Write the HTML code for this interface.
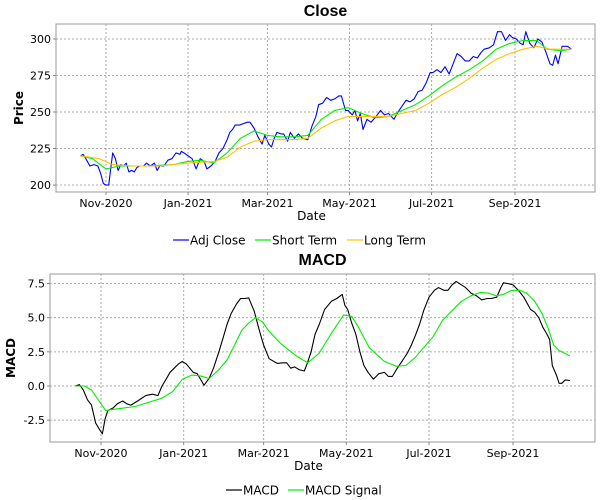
<!DOCTYPE html>
<html><head><meta charset="utf-8"><style>
body{margin:0;background:#fff;}
svg{display:block;font-family:"DejaVu Sans","Liberation Sans",sans-serif;}
</style></head><body>
<svg id="c" width="600" height="500" xmlns="http://www.w3.org/2000/svg"></svg>
<script>
// days offset from 2020-11-01
const closeDays=[-19,-17,-15,-12,-9,-6,-4,-2,0,2,5,7,9,11,13,15,17,19,21,23,25,28,30,33,36,38,40,43,46,49,52,55,56,58,61,64,67,70,73,75,78,81,84,87,90,92,94,96,99,102,105,107,110,113,116,118,121,123,125,127,130,132,135,137,140,143,146,150,153,156,158,161,164,167,170,173,175,178,180,183,185,187,189,191,194,197,200,204,207,210,214,217,220,223,226,229,232,235,238,241,243,246,249,252,255,258,261,264,267,270,273,276,279,281,285,288,291,294,297,300,302,305,308,310,312,315,318,321,324,327,330,332,334,336,339,343,346];
const closeVals=[220,221,218,213,214,213,208,201,200,200,222,218,210,214,213,215,209,210,209,212,213,213,215,213,215,210,213,213,217,218,222,221,223,222,220,218,211,218,216,211,213,216,222,225,231,236,238,241,241,242,243,243,239,233,228,234,228,226,232,236,235,235,230,236,232,235,232,231,240,247,255,256,260,258,259,261,261,251,251,248,251,244,249,238,245,243,246,251,248,249,245,250,254,258,257,259,264,265,270,277,277,279,277,281,276,283,290,288,285,285,288,287,291,293,294,296,305,305,299,303,301,300,297,296,305,297,294,300,298,291,283,282,289,283,295,295,293];
const shortDays=[-19,-10,0,10,30,50,60,70,80,90,100,110,120,130,140,150,160,170,180,190,200,210,220,230,240,250,260,270,280,290,300,310,320,328,338,346];
const shortVals=[220,218,211,213,213,214,216,217,215,222,232,237,234,233,233,234,245,251,253,249,246,247,251,255,261,268,274,279,285,293,297,299,299,293,292,293];
const longDays=[-19,-5,5,20,40,60,80,90,100,110,120,140,150,160,170,180,190,210,230,240,250,260,270,280,290,300,310,320,330,346];
const longVals=[220,218,214,213,213,215,216,219,226,230,231,231,232,239,244,247,247,247,251,256,262,267,273,280,286,290,293,295,293,293];
const macdDays=[-19,-16,-13,-10,-7,-4,-1,1,3,5,9,12,16,19,22,27,33,38,42,45,48,51,54,57,60,63,68,71,74,76,80,83,87,90,93,96,100,103,106,109,113,117,120,124,130,134,137,140,143,146,150,152,155,158,161,165,170,174,178,180,182,185,188,191,194,197,201,205,209,212,215,218,222,226,229,232,235,238,242,246,249,253,256,259,262,266,269,273,277,281,285,288,292,295,297,300,304,308,312,317,320,323,326,329,331,333,336,338,340,342.6,346];
const macdVals=[0,0.1,-0.3,-1,-1.4,-2.7,-3.2,-3.5,-2.4,-1.8,-1.6,-1.3,-1.1,-1.3,-1.4,-1.1,-0.7,-0.6,-0.7,0,0.5,1.0,1.3,1.6,1.8,1.6,1.0,0.9,0.4,0.05,0.6,1.3,2.5,3.5,4.5,5.3,6.0,6.4,6.4,6.45,5.5,4.0,3.0,2.0,1.65,1.7,1.7,1.3,1.4,1.2,1.1,1.6,2.5,3.8,4.5,5.6,6.2,6.4,6.7,5.9,5.6,4.6,3.8,2.5,1.5,1.0,0.5,0.9,1.0,0.7,0.7,1.2,1.8,2.4,3.0,3.7,4.5,5.5,6.5,7.0,7.2,7.0,7.0,7.4,7.65,7.4,7.2,6.8,6.6,6.3,6.4,6.4,6.5,7.2,7.55,7.5,7.4,7.0,6.5,5.6,5.4,5.0,4.3,3.8,3.4,1.5,0.8,0.2,0.2,0.45,0.4];
const sigDays=[-19,-12,-7,-3.5,3.5,10,25,35,44.7,53,60,67,73,80,87,93,98.6,104,109,114,119,124,132.6,144,152.5,161,169.6,179,185,190,198,209,218,225,232,238,245,252,259,266,273,280,286,291.6,297,303,309,314,320,325.5,330,334,338,346];
const sigVals=[0,0,-0.3,-0.8,-1.8,-1.7,-1.5,-1.2,-0.9,-0.4,0.5,0.8,0.75,0.55,1.2,1.9,3.0,4.1,4.6,5.0,4.7,4.0,3.1,2.2,1.7,2.4,3.8,5.2,5.1,4.3,2.8,1.8,1.45,1.5,2.1,2.8,3.6,4.8,5.5,6.2,6.6,6.85,6.8,6.6,6.7,7.0,7.0,6.8,6.2,5.3,4.2,3.0,2.6,2.2];
const monthLabels=["Nov-2020","Jan-2021","Mar-2021","May-2021","Jul-2021","Sep-2021"];
const monthDays=[0,61,120,181,242,304];
const priceTicks=[200,225,250,275,300];
const macdTicks=[-2.5,0,2.5,5,7.5];

const svg=document.getElementById('c');
const NS='http://www.w3.org/2000/svg';
function mk(tag,attrs,parent,text){const e=document.createElementNS(NS,tag);for(const k in attrs)e.setAttribute(k,attrs[k]);if(text!==undefined)e.textContent=text;(parent||svg).appendChild(e);return e;}

function panel(cfg){
  const g=mk('g',{});
  
  
  const sx=d=>cfg.x0+(d-0)*(cfg.x1-cfg.x0)/304;
  const sy=v=>cfg.y0+(v-cfg.v0)*(cfg.y1-cfg.y0)/(cfg.v1-cfg.v0);
  const t=mk('text',{x:(cfg.L+cfg.R)/2,y:cfg.titleY,'text-anchor':'middle','font-size':'16','font-weight':'bold','font-family':'"Liberation Sans",sans-serif'},g,cfg.title);
  
  
  const fr=mk('rect',{x:cfg.L,y:cfg.T,width:cfg.R-cfg.L,height:cfg.B-cfg.T,fill:'#fff',stroke:'#999','stroke-width':'1'},g);
  
  
  cfg.yt.forEach(v=>{const y=sy(v);
    const l=mk('line',{x1:cfg.L,x2:cfg.R,y1:y,y2:y,stroke:'#aaa','stroke-dasharray':'2,2'},g);
    
    
    mk('line',{x1:cfg.L-3,x2:cfg.L,y1:y,y2:y,stroke:'#888'},g);
    const tx=mk('text',{x:cfg.L-5,y:y+4,'text-anchor':'end','font-size':'11'},g,cfg.fmt(v));
    
    
  });
  monthDays.forEach((d,i)=>{const x=sx(d);
    const l=mk('line',{x1:x,x2:x,y1:cfg.T,y2:cfg.B,stroke:'#aaa','stroke-dasharray':'2,2'},g);
    
    
    mk('line',{x1:x,x2:x,y1:cfg.B,y2:cfg.B+3,stroke:'#888'},g);
    const tx=mk('text',{x:x,y:cfg.B+15,'text-anchor':'middle','font-size':'11'},g,monthLabels[i]);
    
    
  });
  const xt=mk('text',{x:(cfg.L+cfg.R)/2-14,y:cfg.B+28,'text-anchor':'middle','font-size':'12'},g,'Date');
  
  
  const yx=cfg.yTitleX, yy=(cfg.T+cfg.B)/2;
  const yt=mk('text',{x:yx,y:yy,'text-anchor':'middle','font-size':'12','font-weight':'bold',transform:`rotate(-90 ${yx} ${yy})`},g,cfg.yTitle);
  
  
  cfg.series.forEach(s=>{
    const pts=s.d.map((d,i)=>sx(d).toFixed(1)+','+sy(s.v[i]).toFixed(1)).join(' ');
    const p=mk('polyline',{points:pts,fill:'none',stroke:s.c,'stroke-width':'1.1','stroke-linejoin':'round'},g);
    
    
  });
  const lg=mk('g',{},g);
  
  
  cfg.series.forEach((s,i)=>{
    const x=cfg.legX[i];
    mk('line',{x1:x,x2:x+16,y1:cfg.legY,y2:cfg.legY,stroke:s.c,'stroke-width':'1.2'},lg);
    const tx=mk('text',{x:x+17,y:cfg.legY+4.5,'font-size':'12'},lg,s.label);
    
    
  });
}

panel({name:'close-chart',title:'Close',titleY:16,L:56,R:595,T:24,B:192,x0:106,x1:515,y0:185,y1:39,v0:200,v1:300,
  yt:priceTicks,fmt:v=>String(v),yTitle:'Price',yTitleX:23,legX:[173,255,347],legY:240,
  series:[{n:'adj-close',label:'Adj Close',c:'#0000ff',d:closeDays,v:closeVals},
          {n:'short-term',label:'Short Term',c:'#00ee00',d:shortDays,v:shortVals},
          {n:'long-term',label:'Long Term',c:'#ffc000',d:longDays,v:longVals}]});
panel({name:'macd-chart',title:'MACD',titleY:265,L:50,R:595,T:274,B:442,x0:101,x1:513,y0:386,y1:283.5,v0:0,v1:7.5,
  yt:macdTicks,fmt:v=>v.toFixed(1),yTitle:'MACD',yTitleX:15,legX:[226,288],legY:490,
  series:[{n:'macd',label:'MACD',c:'#000000',d:macdDays,v:macdVals},
          {n:'macd-signal',label:'MACD Signal',c:'#00ee00',d:sigDays,v:sigVals}]});
</script>
</body></html>
